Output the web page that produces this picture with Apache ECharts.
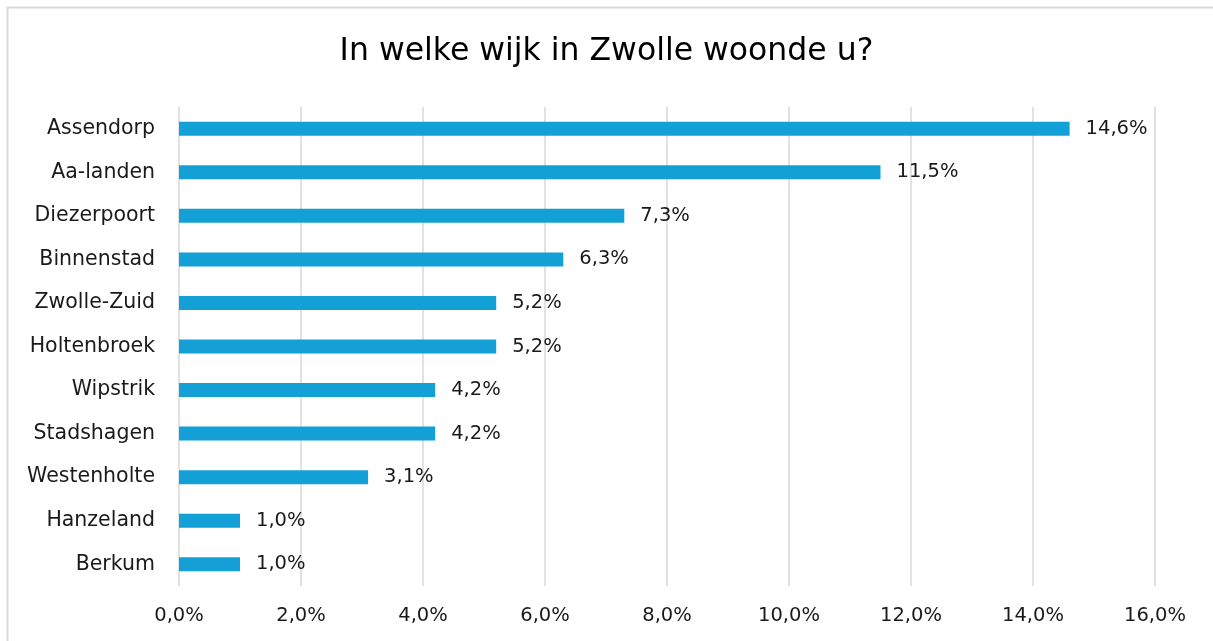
<!DOCTYPE html>
<html>
<head>
<meta charset="utf-8">
<script src="https://cdn.jsdelivr.net/npm/echarts@6/dist/echarts.min.js"></script>
<style>
  html, body { margin: 0; padding: 0; background: #fff; }
  #box { width: 1213px; height: 641px; }
</style>
</head>
<body>
<div id="box"></div>
<script>
var titleText = "In welke wijk in Zwolle woonde u?";
var wijken = ["Assendorp", "Aa-landen", "Diezerpoort", "Binnenstad", "Zwolle-Zuid", "Holtenbroek",
  "Wipstrik", "Stadshagen", "Westenholte", "Hanzeland", "Berkum"];
var percentages = [14.6, 11.5, 7.3, 6.3, 5.2, 5.2, 4.2, 4.2, 3.1, 1.0, 1.0];
var axisMin = 0, axisMax = 16, axisStep = 2;

function pct(v) {
  return v.toFixed(1).replace(".", ",") + "%";
}

var myChart = echarts.init(document.getElementById("box"));
var option = {
  animation: false,
  textStyle: { fontFamily: "DejaVu Sans, sans-serif" },
  title: {
    text: titleText,
    left: "center",
    top: 31,
    textStyle: { fontSize: 31.5, fontWeight: "normal", color: "#000" }
  },
  graphic: [{
    type: "rect",
    shape: { x: 7.5, y: 7.5, width: 1220, height: 700 },
    style: { fill: "none", stroke: "#d9d9d9", lineWidth: 2 },
    silent: true
  }],
  grid: { left: 179, right: 58, top: 107, bottom: 55, containLabel: false },
  xAxis: {
    type: "value",
    min: axisMin,
    max: axisMax,
    interval: axisStep,
    axisLine: { show: false },
    axisTick: { show: false },
    splitLine: { lineStyle: { color: "#d9d9d9", width: 1.5 } },
    axisLabel: {
      formatter: function (v) { return pct(v); },
      fontSize: 19.5,
      color: "#1a1a1a",
      margin: 20
    }
  },
  yAxis: {
    type: "category",
    data: wijken,
    inverse: true,
    axisLine: { show: false },
    axisTick: { show: false },
    axisLabel: { fontSize: 20.5, color: "#1a1a1a", margin: 24 }
  },
  series: [{
    type: "bar",
    data: percentages,
    barWidth: 14,
    itemStyle: { color: "#12a0d7" },
    label: {
      show: true,
      position: "right",
      distance: 16,
      fontSize: 19.5,
      color: "#1a1a1a",
      formatter: function (p) { return pct(p.value); }
    }
  }]
};
myChart.setOption(option);
</script>
</body>
</html>
